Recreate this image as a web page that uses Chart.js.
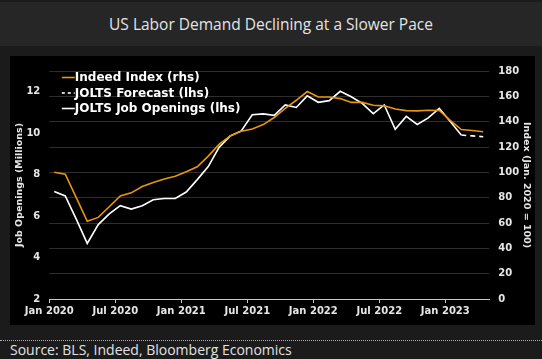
<!DOCTYPE html>
<html>
<head>
<meta charset="utf-8">
<script src="https://cdn.jsdelivr.net/npm/chart.js@4/dist/chart.umd.min.js"></script>
<style>
  html, body { margin:0; padding:0; }
  body { width:542px; height:359px; background:#1b1b1b; position:relative; overflow:hidden; }
  #title { position:absolute; left:0; top:2px; width:542px; height:44px; background:#262626;
           color:#e4e4e4; font-family:"Open Sans", sans-serif; font-size:15.5px; line-height:44px; text-align:center; }
  #panel { position:absolute; left:10px; top:56px; width:525px; height:269px; background:#000; }
  #dots { position:absolute; left:0; top:340px; width:542px; border-top:1px dotted #b0b0b0; }
  #source { position:absolute; left:10px; top:340px; color:#e2e2e2; font-family:"Open Sans", sans-serif; font-size:14px; line-height:20px; }
</style>
</head>
<body>
<div id="title">US Labor Demand Declining at a Slower Pace</div>
<div id="panel"><canvas id="c" width="525" height="269"></canvas></div>
<div id="dots"></div>
<div id="source">Source: BLS, Indeed, Bloomberg Economics</div>
<script>
// Months from Jan 2020 (index 0) to Apr 2023 (index 39)
const xTickLabels = ['Jan 2020','Jul 2020','Jan 2021','Jul 2021','Jan 2022','Jul 2022','Jan 2023'];

// Indeed Index (rhs), Jan 2020 = 100, Jan 2020 .. Apr 2023
const indeedIndex = [
  100, 98.5, 80, 61.3, 64.4, 72.8, 81.3, 83.8, 88.8, 92, 94.8, 96.9,
  100.5, 104.4, 112.8, 122.3, 128.7, 132.5, 134.2, 137.7, 143.3, 150.5, 156.9, 163.8,
  159.5, 159.5, 158.2, 155.2, 155.2, 153, 152.5, 150, 148.7, 148.5, 149, 148.8,
  141, 133.8, 133, 132
];

// JOLTS Job Openings (lhs, millions), Jan 2020 .. Feb 2023
const joltsOpenings = [
  7.19, 6.97, 5.85, 4.68, 5.59, 6.11, 6.5, 6.34, 6.5, 6.79, 6.85, 6.85,
  7.16, 7.76, 8.39, 9.33, 9.87, 10.11, 10.89, 10.93, 10.86, 11.36, 11.24, 11.8,
  11.49, 11.57, 12.02, 11.76, 11.44, 10.94, 11.36, 10.19, 10.81, 10.42, 10.74, 11.2,
  10.56, 9.91
];

// JOLTS Forecast (lhs), Feb 2023 .. Apr 2023
const forecastStart = 37;
const joltsForecast = [9.91, 9.87, 9.83];

const MID = 0.45; // monthly points drawn near mid-month
const toPts = (arr, start) => arr.map((v, i) => ({ x: start + i + MID, y: v }));

const ORANGE = '#e8950f';
const TICK_FONT = { family: 'DejaVu Sans', weight: 'bold', size: 10 };
const TITLE_FONT = { family: 'DejaVu Sans', weight: 'bold', size: 9.5 };

const legendInPlot = {
  id: 'legendInPlot',
  afterDatasetsDraw(chart) {
    const ctx = chart.ctx, a = chart.chartArea;
    const x0 = a.left + 12.5, y0 = a.top + 6.5, step = 15.5, len = 13;
    ctx.save();
    ctx.font = 'bold 12px "DejaVu Sans"';
    ctx.textBaseline = 'middle';
    ctx.textAlign = 'left';
    chart.data.datasets.forEach((ds, i) => {
      const y = y0 + i * step;
      ctx.strokeStyle = ds.borderColor;
      ctx.lineWidth = 1.6;
      ctx.setLineDash(ds.borderDash ? [3, 3] : []);
      ctx.beginPath(); ctx.moveTo(x0, y); ctx.lineTo(x0 + len, y); ctx.stroke();
      ctx.setLineDash([]);
      ctx.fillStyle = '#ffffff';
      ctx.fillText(ds.label, x0 + len, y + 0.5);
    });
    ctx.restore();
  }
};

new Chart(document.getElementById('c'), {
  type: 'line',
  data: {
    datasets: [
      { label: 'Indeed Index (rhs)', data: toPts(indeedIndex, 0), yAxisID: 'yR',
        borderColor: ORANGE, borderWidth: 1.6, pointRadius: 0, tension: 0 },
      { label: 'JOLTS Forecast (lhs)', data: toPts(joltsForecast, forecastStart), yAxisID: 'yL',
        borderColor: '#ffffff', borderWidth: 1.6, borderDash: [5, 4], pointRadius: 0, tension: 0 },
      { label: 'JOLTS Job Openings (lhs)', data: toPts(joltsOpenings, 0), yAxisID: 'yL',
        borderColor: '#ffffff', borderWidth: 1.6, pointRadius: 0, tension: 0 }
    ]
  },
  options: {
    responsive: false,
    animation: false,
    devicePixelRatio: 1,
    layout: { padding: { top: 9, left: 0, right: 0, bottom: 0 } },
    plugins: { legend: { display: false }, tooltip: { enabled: false } },
    scales: {
      x: {
        type: 'linear', min: 0, max: 40,
        afterBuildTicks: s => { s.ticks = s.ticks.filter(t => t.value % 6 === 0 && t.value <= 36); },
        afterFit: s => { s.height = 26; },
        ticks: { stepSize: 6, color: '#e6e6e6', font: TICK_FONT, padding: 2, maxRotation: 0,
                 callback: v => xTickLabels[v / 6] },
        grid: { display: true, drawOnChartArea: false, drawTicks: true, tickLength: 4, color: '#c8c8c8' },
        border: { display: true, color: '#c8c8c8', width: 1 }
      },
      yL: {
        type: 'linear', position: 'left', min: 2, max: 13,
        afterBuildTicks: s => { s.ticks = s.ticks.filter(t => t.value % 2 === 0); },
        afterFit: s => { s.width = 39.3; },
        ticks: { stepSize: 2, color: '#e6e6e6', font: TICK_FONT, padding: 9 },
        grid: { display: false, drawTicks: false },
        border: { display: false },
        title: { display: true, text: 'Job Openings (Millions)', color: '#e6e6e6', font: TITLE_FONT,
                 padding: { top: 4, bottom: 0 } }
      },
      yR: {
        type: 'linear', position: 'right', min: 0, max: 180,
        afterFit: s => { s.width = 45.7; },
        ticks: { stepSize: 20, color: '#e6e6e6', font: TICK_FONT, padding: 9 },
        grid: { color: '#2e2e2e', lineWidth: 1, drawTicks: false },
        border: { display: false },
        title: { display: true, text: 'Index (Jan. 2020 = 100)', color: '#e6e6e6', font: TITLE_FONT,
                 padding: { top: 3, bottom: 0 } }
      }
    }
  },
  plugins: [legendInPlot]
});
</script>
</body>
</html>
